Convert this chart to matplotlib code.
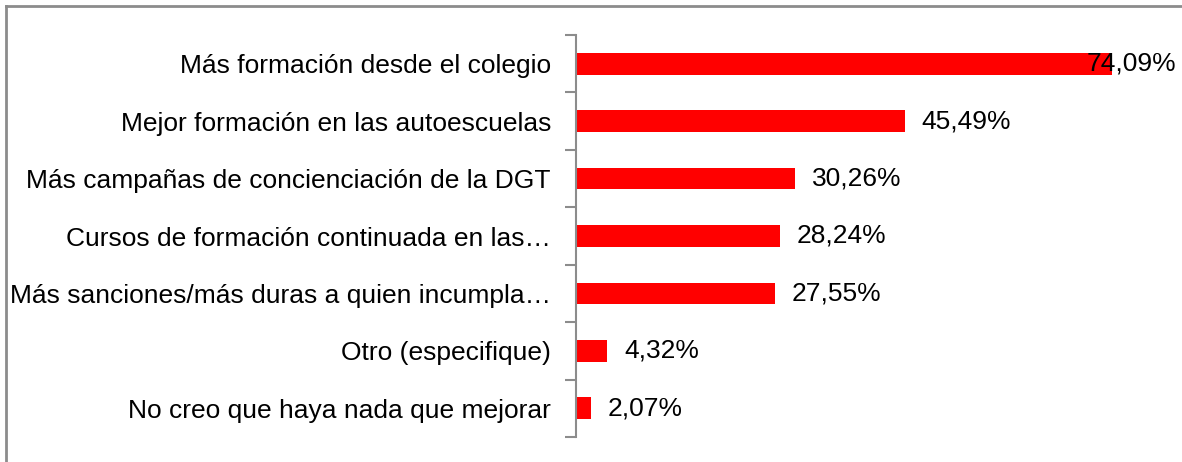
import matplotlib
matplotlib.use("Agg")
import matplotlib.pyplot as plt
from matplotlib.lines import Line2D

categories = [
    "Más formación desde el colegio",
    "Mejor formación en las autoescuelas",
    "Más campañas de concienciación de la DGT",
    "Cursos de formación continuada en las…",
    "Más sanciones/más duras a quien incumpla…",
    "Otro (especifique)",
    "No creo que haya nada que mejorar",
]
values = [74.09, 45.49, 30.26, 28.24, 27.55, 4.32, 2.07]
labels = ["74,09%", "45,49%", "30,26%", "28,24%", "27,55%", "4,32%", "2,07%"]

plt.rcParams["font.family"] = ["Liberation Sans", "DejaVu Sans"]
FS = 19

W, H = 1182, 462
fig = plt.figure(figsize=(W / 100, H / 100), dpi=100)
left, right, top, bottom = 576, 1176, 35, 437
ax = fig.add_axes([left / W, 1 - bottom / H, (right - left) / W, (bottom - top) / H])

n = len(categories)
ys = list(range(n))
ax.barh(ys, values, height=0.38, color="#ff0000")
xmax = (right - left) / 7.235
ax.set_xlim(0, xmax)
ax.set_ylim(n - 0.5, -0.5)

for y, v, lab in zip(ys, values, labels):
    if v + 2.3 + 12 > xmax:
        ax.text(xmax, y, lab, va="center", ha="right", fontsize=FS, color="black")
    else:
        ax.text(v + 2.3, y, lab, va="center", ha="left", fontsize=FS, color="black")

ax.set_yticks(ys)
ax.set_yticklabels(categories, fontsize=FS)
ax.set_yticks([i - 0.5 for i in range(n + 1)], minor=True)
ax.tick_params(axis="y", which="major", length=0, pad=18)
ax.tick_params(axis="y", which="minor", length=8, width=1.5, color="#8c8c8c")
ax.set_xticks([])
for s in ["top", "right", "bottom"]:
    ax.spines[s].set_visible(False)
ax.spines["left"].set_color("#8c8c8c")
ax.spines["left"].set_linewidth(1.5)

# chart border (left and top)
fig.add_artist(Line2D([6 / W, 6 / W], [0, 1 - 6 / H], color="#8c8c8c", lw=2, transform=fig.transFigure))
fig.add_artist(Line2D([6 / W, 1], [1 - 6 / H, 1 - 6 / H], color="#8c8c8c", lw=2, transform=fig.transFigure))

fig.savefig("out.png", dpi=100)
